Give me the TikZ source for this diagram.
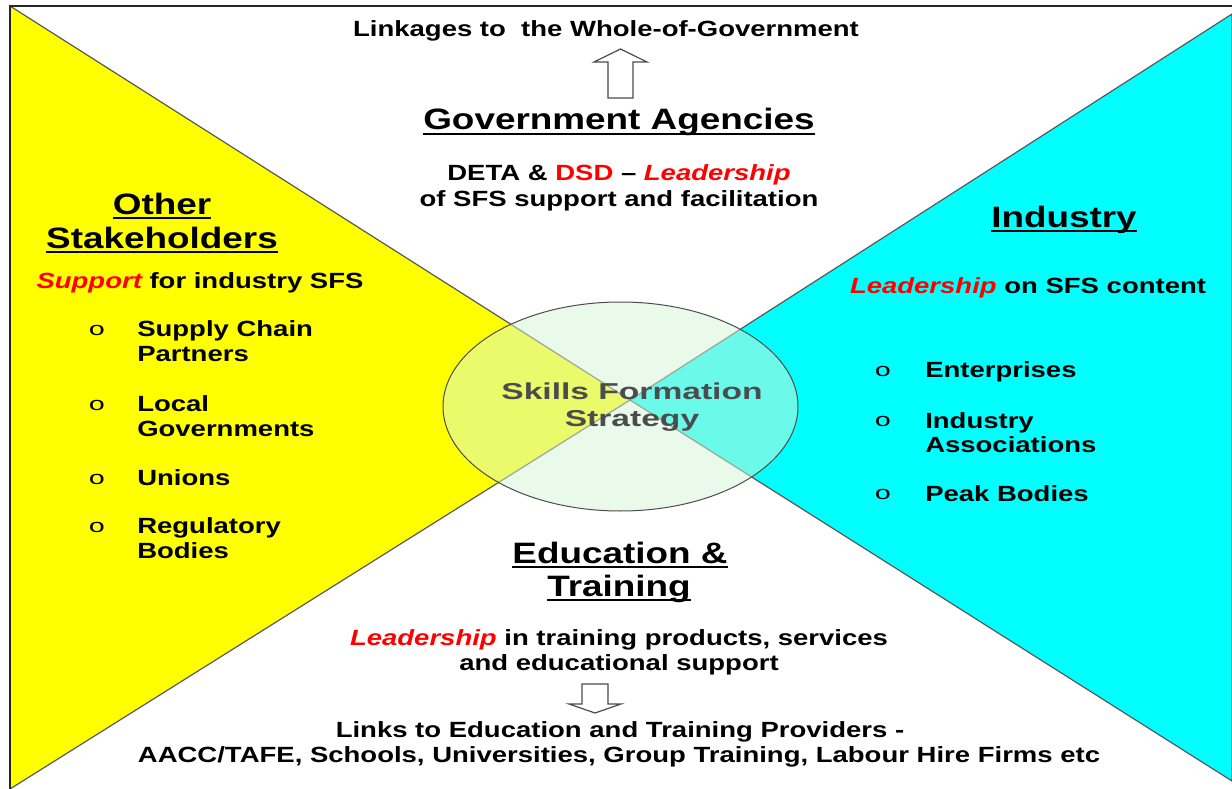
\documentclass[tikz,border=0pt]{standalone}
\usepackage{fontspec}
\usetikzlibrary{shapes.geometric}
\setmainfont{Liberation Sans}
\newfontfamily\bulletfont{Liberation Mono}
\newcommand\myul[1]{\setbox0\hbox{#1}\rlap{\rule[-5pt]{\wd0}{2pt}}\box0}
\definecolor{myyellow}{RGB}{255,255,0}
\definecolor{mycyan}{RGB}{0,255,255}
\definecolor{mygreen}{RGB}{215,247,215}
\begin{document}
\begin{tikzpicture}[x=1pt,y=-1pt,
  title/.style={font=\bfseries\fontsize{29.5}{34}\selectfont, xscale=1.25, inner sep=0, anchor=base},
  body/.style={font=\bfseries\fontsize{22}{25}\selectfont, xscale=1.25, inner sep=0, anchor=base},
  itemtxt/.style={body, anchor=base west},
  bul/.style={font=\bulletfont\fontsize{19}{19}\selectfont, xscale=1.5, inner sep=0, anchor=base},
  edge/.style={draw=black!65, line width=1.2pt},
  hollow/.style={draw=black!70, line width=1.2pt, fill=white, line join=miter}]
\useasboundingbox (0,0) rectangle (1232,789);
\fill[white] (0,0) rectangle (1232,789);
% triangles
\coordinate (c) at (630,400);
\filldraw[edge, fill=myyellow] (10,6) -- (c) -- (10,789) -- cycle;
\filldraw[edge, fill=mycyan] (1232,14) -- (c) -- (1232,781) -- cycle;
% frame
\draw[black!85, line width=2pt] (10,789) -- (10,6) -- (1232,6);
% ellipse
\node[draw=black!70, line width=1pt, fill=mygreen, fill opacity=0.5, ellipse, minimum width=355, minimum height=209, inner sep=0] (sfs) at (620.5,406.5) {};
\node[font=\bfseries\fontsize{23}{27}\selectfont, xscale=1.46, text=black!70, inner sep=0, anchor=base] (sfs1) at (632,399) {Skills Formation};
\node[font=\bfseries\fontsize{23}{27}\selectfont, xscale=1.46, text=black!70, inner sep=0, anchor=base] (sfs2) at (632,426) {Strategy};
% top
\node[body] (link) at (606,37) {Linkages to\ \ the Whole-of-Government};
\draw[hollow] (608,98) -- (608,62) -- (594,62) -- (620.5,49) -- (647,62) -- (633,62) -- (633,98) -- cycle;
\node[title] (gov) at (619,130) {\myul{Government Agencies}};
\node[body] (gov1) at (619,181) {DETA \& \textcolor{red}{DSD} -- \textcolor{red}{\itshape Leadership}};
\node[body] (gov2) at (619,206) {of SFS support and facilitation};
% left
\node[title] (oth1) at (162,214) {\myul{Other}};
\node[title] (oth2) at (162,248) {\myul{Stakeholders}};
\node[body] (oth3) at (200,288) {\textcolor{red}{\itshape Support} for industry SFS};
\node[bul] (lb1) at (97,335) {o};
\node[bul] (lb2) at (97,410) {o};
\node[bul] (lb3) at (97,484) {o};
\node[bul] (lb4) at (97,532) {o};
\node[itemtxt] (li1a) at (137,336) {Supply Chain};
\node[itemtxt] (li1b) at (137,361) {Partners};
\node[itemtxt] (li2a) at (137,411) {Local};
\node[itemtxt] (li2b) at (137,436) {Governments};
\node[itemtxt] (li3a) at (137,485) {Unions};
\node[itemtxt] (li4a) at (137,533) {Regulatory};
\node[itemtxt] (li4b) at (137,558) {Bodies};
% right
\node[title] (ind) at (1064,227) {\myul{Industry}};
\node[body] (ind1) at (1028,293) {\textcolor{red}{\itshape Leadership} on SFS content};
\node[bul] (rb1) at (883,376) {o};
\node[bul] (rb2) at (883,426) {o};
\node[bul] (rb3) at (883,499) {o};
\node[itemtxt] (ri1a) at (925,377) {Enterprises};
\node[itemtxt] (ri2a) at (925,428) {Industry};
\node[itemtxt] (ri2b) at (925,452) {Associations};
\node[itemtxt] (ri3a) at (925,501) {Peak Bodies};
% bottom
\node[title] (edu1) at (620,563) {\myul{Education \&}};
\node[title] (edu2) at (619,596) {\myul{Training}};
\node[body] (edu3) at (619,645) {\textcolor{red}{\itshape Leadership} in training products, services};
\node[body] (edu4) at (619,670) {and educational support};
\draw[hollow] (582,684) -- (608,684) -- (608,704) -- (621,704) -- (595,713) -- (569,704) -- (582,704) -- cycle;
\node[body] (lk1) at (620,737) {Links to Education and Training Providers -};
\node[body] (lk2) at (619,762) {AACC/TAFE, Schools, Universities, Group Training, Labour Hire Firms etc};
\end{tikzpicture}
\end{document}
